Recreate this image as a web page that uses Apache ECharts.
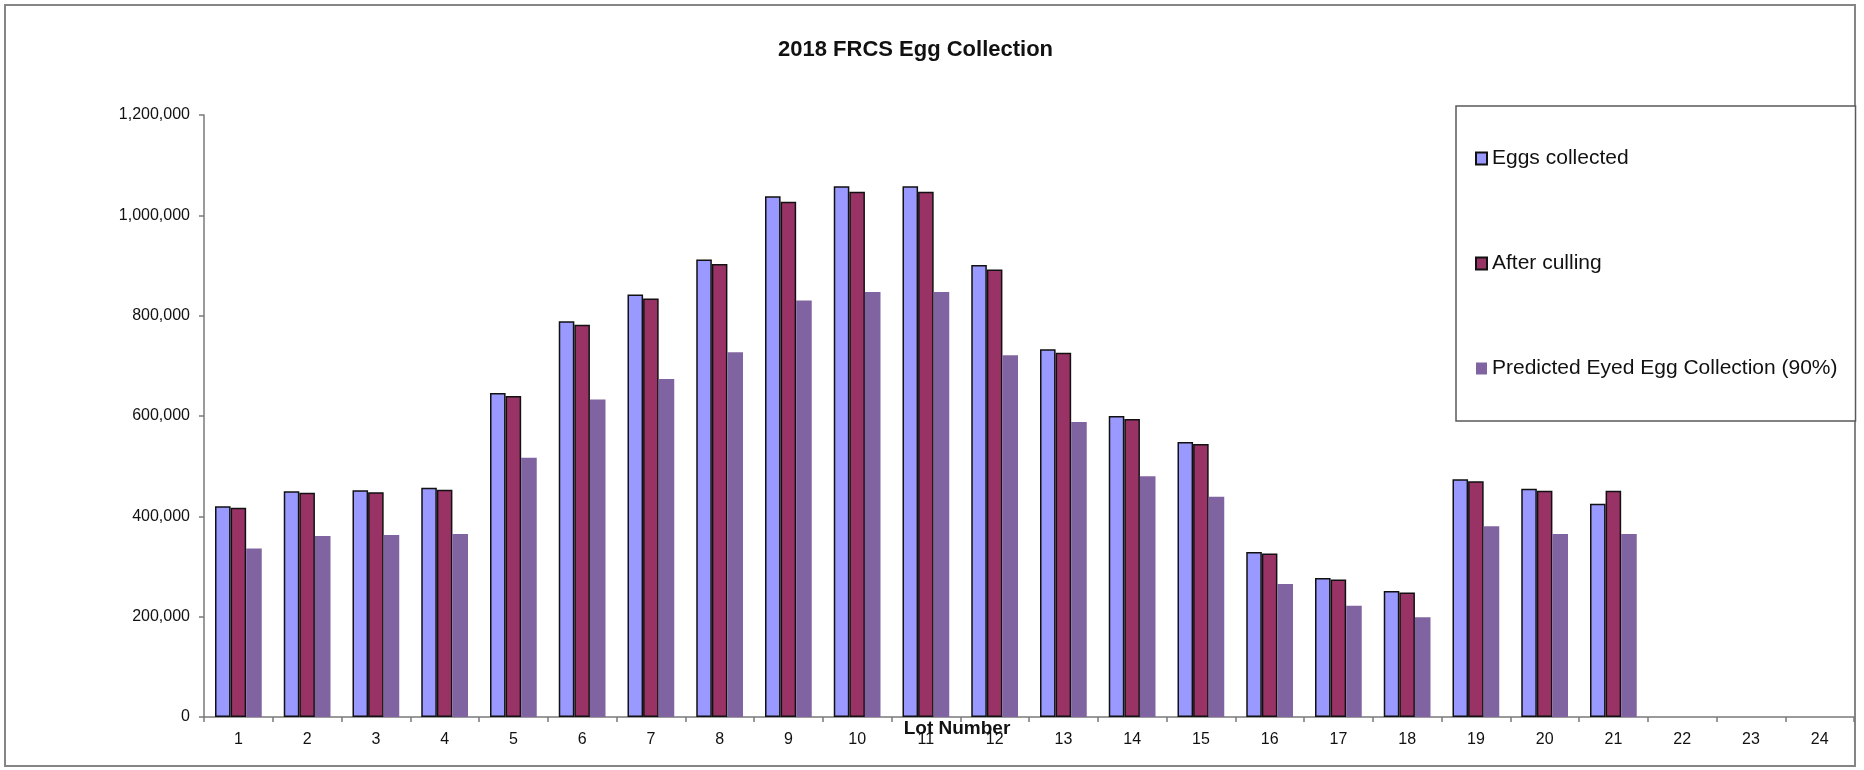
<!DOCTYPE html>
<html>
<head>
<meta charset="utf-8">
<title>2018 FRCS Egg Collection</title>
<script src="https://cdn.jsdelivr.net/npm/echarts@6/dist/echarts.min.js"></script>
<style>
  html, body { margin: 0; padding: 0; background: #ffffff; }
  #chart { width: 1864px; height: 770px; }
</style>
</head>
<body>
<div id="chart"></div>
<script>
// Lot numbers along the category axis
const lots = ['1','2','3','4','5','6','7','8','9','10','11','12','13','14','15','16','17','18','19','20','21','22','23','24'];

// Egg counts per lot (lots 22-24 not yet collected)
const eggsCollected = [420000, 450000, 452000, 457000, 646000, 789000, 842000, 912000, 1038000, 1058000, 1058000, 901000,
                       733000, 600000, 548000, 329000, 277000, 251000, 474000, 455000, 425000, null, null, null];
const afterCulling  = [417000, 447000, 448000, 453000, 640000, 782000, 834000, 903000, 1027000, 1047000, 1047000, 892000,
                       726000, 594000, 544000, 326000, 274000, 248000, 470000, 451000, 451000, null, null, null];
const predictedEyed = [336000, 361000, 363000, 365000, 517000, 633000, 674000, 727000, 830000, 847000, 847000, 721000,
                       588000, 480000, 439000, 265000, 222000, 199000, 380000, 365000, 365000, null, null, null];

// Value axis ticks
const yMin = 0, yMax = 1200000, yStep = 200000;

const seriesNames = ['Eggs collected', 'After culling', 'Predicted Eyed Egg Collection (90%)'];

const FONT = '"Liberation Sans", Arial, Helvetica, sans-serif';
const AXIS_GREY = '#7a7a7a';

const chart = echarts.init(document.getElementById('chart'), null, { renderer: 'canvas' });

const fmt = v => String(v).replace(/\B(?=(\d{3})+(?!\d))/g, ',');

chart.setOption({
  backgroundColor: '#ffffff',
  animation: false,
  textStyle: { fontFamily: FONT, color: '#111' },
  graphic: [{
    type: 'rect',
    silent: true,
    z: -10,
    shape: { x: 5, y: 5, width: 1850, height: 761 },
    style: { fill: 'none', stroke: '#858585', lineWidth: 2 }
  }],
  title: {
    text: '2018 FRCS Egg Collection',
    left: 778,
    top: 39,
    padding: 0,
    textStyle: { fontFamily: FONT, fontSize: 22, fontWeight: 'bold', color: '#111' }
  },
  legend: {
    orient: 'vertical',
    left: 1456,
    top: 106,
    padding: [42, 18, 42, 19],
    itemGap: 84,
    itemWidth: 11,
    itemHeight: 12,
    itemTextGap: 4,
    icon: 'rect',
    borderColor: '#5a5a5a',
    borderWidth: 1.5,
    backgroundColor: '#ffffff',
    textStyle: { fontFamily: FONT, fontSize: 21, lineHeight: 21, color: '#111' },
    data: seriesNames
  },
  grid: { left: 204, right: 10, top: 115, bottom: 53, containLabel: false, outerBoundsMode: 'none' },
  xAxis: {
    type: 'category',
    data: lots,
    boundaryGap: true,
    name: 'Lot Number',
    nameLocation: 'middle',
    nameGap: 2,
    nameMoveOverlap: false,
    nameTextStyle: { fontFamily: FONT, fontSize: 19, fontWeight: 'bold', color: '#111', padding: [0, 144, 0, 0] },
    axisLine: { lineStyle: { color: AXIS_GREY, width: 1.5 } },
    axisTick: { show: true, length: 5, inside: false, lineStyle: { color: AXIS_GREY, width: 1.5 } },
    axisLabel: { fontFamily: FONT, fontSize: 16, color: '#111', margin: 15, interval: 0 },
    splitLine: { show: false }
  },
  yAxis: {
    type: 'value',
    min: yMin,
    max: yMax,
    interval: yStep,
    axisLine: { show: true, lineStyle: { color: AXIS_GREY, width: 1.5 } },
    axisTick: { show: true, length: 5, inside: false, lineStyle: { color: AXIS_GREY, width: 1.5 } },
    axisLabel: { fontFamily: FONT, fontSize: 16, color: '#111', margin: 14, formatter: fmt },
    splitLine: { show: false }
  },
  series: [
    {
      name: seriesNames[0], type: 'bar', data: eggsCollected,
      barGap: '0%', barCategoryGap: '32%',
      itemStyle: { color: '#9999FF', borderColor: '#111', borderWidth: 1.5 }
    },
    {
      name: seriesNames[1], type: 'bar', data: afterCulling,
      barGap: '0%', barCategoryGap: '32%',
      itemStyle: { color: '#993366', borderColor: '#111', borderWidth: 1.5 }
    },
    {
      name: seriesNames[2], type: 'bar', data: predictedEyed,
      barGap: '0%', barCategoryGap: '32%',
      itemStyle: { color: '#8064A2', borderWidth: 0 }
    }
  ]
});
</script>
</body>
</html>
